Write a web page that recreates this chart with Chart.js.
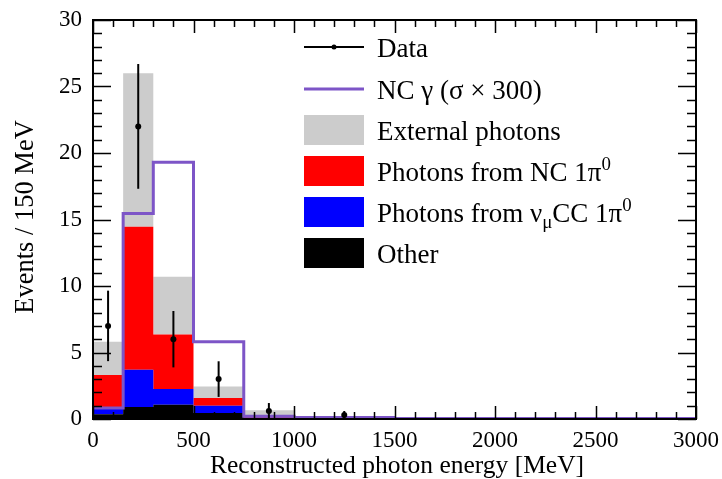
<!DOCTYPE html>
<html>
<head>
<meta charset="utf-8">
<script src="https://cdn.jsdelivr.net/npm/chart.js@4.4.0/dist/chart.umd.min.js"></script>
<style>
  html, body { margin: 0; padding: 0; background: #ffffff; }
  canvas { display: block; }
</style>
</head>
<body>
<canvas id="chart" width="722" height="479"></canvas>
<script>
// Histogram bin edges (MeV); contents are normalised to events per 150 MeV
const binEdges = [0, 150, 300, 500, 750, 1000, 1500, 3000];

// Background components, bottom of the stack first
const other           = [0.35, 0.90, 1.07, 0.45, 0.05, 0.02, 0.01];
const numuCC1pi0      = [0.45, 2.80, 1.19, 0.55, 0.05, 0.02, 0.00];
const nc1pi0          = [2.50, 10.75, 4.09, 0.58, 0.10, 0.02, 0.00];
const externalPhotons = [2.50, 11.55, 4.35, 0.87, 0.45, 0.04, 0.01];

// NC single-photon signal, scaled by 300
const ncGamma = [0.83, 15.45, 19.30, 5.80, 0.20, 0.12, 0.03];

// Data points with statistical errors (bin centres)
const dataX   = [75, 225, 400, 625, 875, 1250];
const dataY   = [7, 22, 6, 3, 0.6, 0.3];
const dataErr = [2.65, 4.69, 2.12, 1.34, 0.6, 0.3];

// Axis tick labels
const xTickValues = [0, 500, 1000, 1500, 2000, 2500, 3000];
const yTickValues = [0, 5, 10, 15, 20, 25, 30];

const xTitle = 'Reconstructed photon energy [MeV]';
const yTitle = 'Events / 150 MeV';

const SERIF = '"Liberation Serif", "Times New Roman", serif';

// running sums for the stacked fills
function addArrays(a, b) { return a.map((v, i) => v + b[i]); }
const stack1 = other;
const stack2 = addArrays(stack1, numuCC1pi0);
const stack3 = addArrays(stack2, nc1pi0);
const stack4 = addArrays(stack3, externalPhotons);

// histogram contents -> step points at bin edges
function steps(vals) {
  const pts = vals.map((v, i) => ({ x: binEdges[i], y: v }));
  pts.push({ x: binEdges[binEdges.length - 1], y: vals[vals.length - 1] });
  return pts;
}

function filled(label, vals, color, fill) {
  return {
    label, data: steps(vals), stepped: 'before', fill,
    backgroundColor: color, borderColor: 'rgba(0,0,0,0)', borderWidth: 0,
    pointRadius: 0, order: 10
  };
}

const PURPLE = '#7d55c7';

const legendItems = [
  { kind: 'data', parts: [['Data', 'n']] },
  { kind: 'line', color: PURPLE, parts: [['NC \u03B3 (\u03C3 \u00D7 300)', 'n']] },
  { kind: 'box', color: '#cccccc', parts: [['External photons', 'n']] },
  { kind: 'box', color: '#ff0000', parts: [['Photons from NC 1\u03C0', 'n'], ['0', 'sup']] },
  { kind: 'box', color: '#0000ff', parts: [['Photons from \u03BD', 'n'], ['\u03BC', 'sub'], ['CC 1\u03C0', 'n'], ['0', 'sup']] },
  { kind: 'box', color: '#000000', parts: [['Other', 'n']] }
];

function drawRichText(ctx, parts, x, y, size) {
  ctx.textBaseline = 'alphabetic';
  ctx.textAlign = 'left';
  let cx = x;
  for (const [t, mode] of parts) {
    let s = size, dy = 0;
    if (mode === 'sup') { s = size * 0.7; dy = -size * 0.4; }
    if (mode === 'sub') { s = size * 0.7; dy = size * 0.22; }
    ctx.font = s + 'px ' + SERIF;
    ctx.fillText(t, cx, y + dy);
    cx += ctx.measureText(t).width;
  }
}

const framePlugin = {
  id: 'frameAndExtras',
  afterDatasetsDraw(chart) {
    const ctx = chart.ctx;
    const xs = chart.scales.x, ys = chart.scales.y;
    // data error bars
    ctx.save();
    ctx.strokeStyle = '#000';
    ctx.lineWidth = 2;
    for (let i = 0; i < dataX.length; i++) {
      const px = xs.getPixelForValue(dataX[i]);
      const lo = Math.max(0, dataY[i] - dataErr[i]);
      ctx.beginPath();
      ctx.moveTo(px, ys.getPixelForValue(lo));
      ctx.lineTo(px, ys.getPixelForValue(dataY[i] + dataErr[i]));
      ctx.stroke();
    }
    ctx.restore();
  },
  afterDraw(chart) {
    const ctx = chart.ctx;
    const { left, right, top, bottom } = chart.chartArea;
    const xs = chart.scales.x, ys = chart.scales.y;
    ctx.save();
    ctx.strokeStyle = '#000';
    ctx.lineWidth = 2;
    ctx.strokeRect(left, top, right - left, bottom - top);
    ctx.lineWidth = 1.5;
    // x ticks (bottom and top, pointing inward)
    for (let v = 0; v <= 3000; v += 100) {
      const px = Math.round(xs.getPixelForValue(v)) + 0.5;
      const len = (v % 500 === 0) ? 13 : 7;
      ctx.beginPath();
      ctx.moveTo(px, bottom); ctx.lineTo(px, bottom - len);
      ctx.moveTo(px, top); ctx.lineTo(px, top + len);
      ctx.stroke();
    }
    // y ticks (left and right, pointing inward)
    for (let v = 0; v <= 30; v += 1) {
      const py = Math.round(ys.getPixelForValue(v)) + 0.5;
      const len = (v % 5 === 0) ? 18 : 9;
      ctx.beginPath();
      ctx.moveTo(left, py); ctx.lineTo(left + len, py);
      ctx.moveTo(right, py); ctx.lineTo(right - len, py);
      ctx.stroke();
    }
    ctx.restore();

    // axis titles
    ctx.save();
    ctx.fillStyle = '#000';
    ctx.font = '25.5px ' + SERIF;
    ctx.textAlign = 'center';
    ctx.textBaseline = 'middle';
    ctx.fillText(xTitle, 397, 466);
    ctx.font = '26.5px ' + SERIF;
    ctx.translate(26, 217);
    ctx.rotate(-Math.PI / 2);
    ctx.fillText(yTitle, 0, 0);
    ctx.restore();

    // legend
    ctx.save();
    const x0 = 304, x1 = 364, textX = 377;
    const rowY = [47, 89, 130, 171, 212, 253];
    legendItems.forEach((it, i) => {
      const cy = rowY[i];
      if (it.kind === 'data') {
        ctx.strokeStyle = '#000'; ctx.lineWidth = 2;
        ctx.beginPath(); ctx.moveTo(x0, cy); ctx.lineTo(x1, cy); ctx.stroke();
        ctx.fillStyle = '#000';
        ctx.beginPath(); ctx.arc((x0 + x1) / 2, cy, 2.5, 0, Math.PI * 2); ctx.fill();
      } else if (it.kind === 'line') {
        ctx.strokeStyle = it.color; ctx.lineWidth = 3;
        ctx.beginPath(); ctx.moveTo(x0, cy); ctx.lineTo(x1, cy); ctx.stroke();
      } else {
        ctx.fillStyle = it.color;
        ctx.fillRect(x0, cy - 15, x1 - x0, 30);
      }
      ctx.fillStyle = '#000';
      drawRichText(ctx, it.parts, textX, cy + 10, 27);
    });
    ctx.restore();
  }
};

new Chart(document.getElementById('chart'), {
  type: 'line',
  data: {
    datasets: [
      filled('Other', stack1, '#000000', 'origin'),
      filled('Photons from \u03BD\u03BCCC 1\u03C00', stack2, '#0000ff', '-1'),
      filled('Photons from NC 1\u03C00', stack3, '#ff0000', '-1'),
      filled('External photons', stack4, '#cccccc', '-1'),
      {
        label: 'NC \u03B3 (\u03C3 \u00D7 300)', data: steps(ncGamma), stepped: 'before',
        fill: false, borderColor: PURPLE, borderWidth: 3, pointRadius: 0, order: 1
      },
      {
        label: 'Data', data: dataX.map((x, i) => ({ x, y: dataY[i] })),
        showLine: false, pointRadius: 3, pointBackgroundColor: '#000',
        pointBorderColor: '#000', pointBorderWidth: 0, order: 0
      }
    ]
  },
  options: {
    responsive: false,
    animation: false,
    devicePixelRatio: 1,
    layout: { padding: { left: 0, right: 26, top: 20, bottom: 0 } },
    plugins: { legend: { display: false }, tooltip: { enabled: false } },
    scales: {
      x: {
        type: 'linear', min: 0, max: 3000,
        grid: { display: false, drawTicks: false },
        border: { display: false },
        afterBuildTicks: (s) => { s.ticks = xTickValues.map(v => ({ value: v })); },
        afterFit: (s) => { s.height = 60; s.paddingLeft = 0; s.paddingRight = 0; },
        ticks: {
          color: '#000', padding: 8, maxRotation: 0, autoSkip: false,
          font: { family: SERIF, size: 23 },
          callback: (v) => String(v)
        }
      },
      y: {
        min: 0, max: 30,
        grid: { display: false, drawTicks: false },
        border: { display: false },
        afterBuildTicks: (s) => { s.ticks = yTickValues.map(v => ({ value: v })); },
        afterFit: (s) => { s.width = 93; s.paddingTop = 0; s.paddingBottom = 0; },
        ticks: {
          color: '#000', padding: 11,
          font: { family: SERIF, size: 23 },
          callback: (v) => String(v)
        }
      }
    }
  },
  plugins: [framePlugin]
});
</script>
</body>
</html>
